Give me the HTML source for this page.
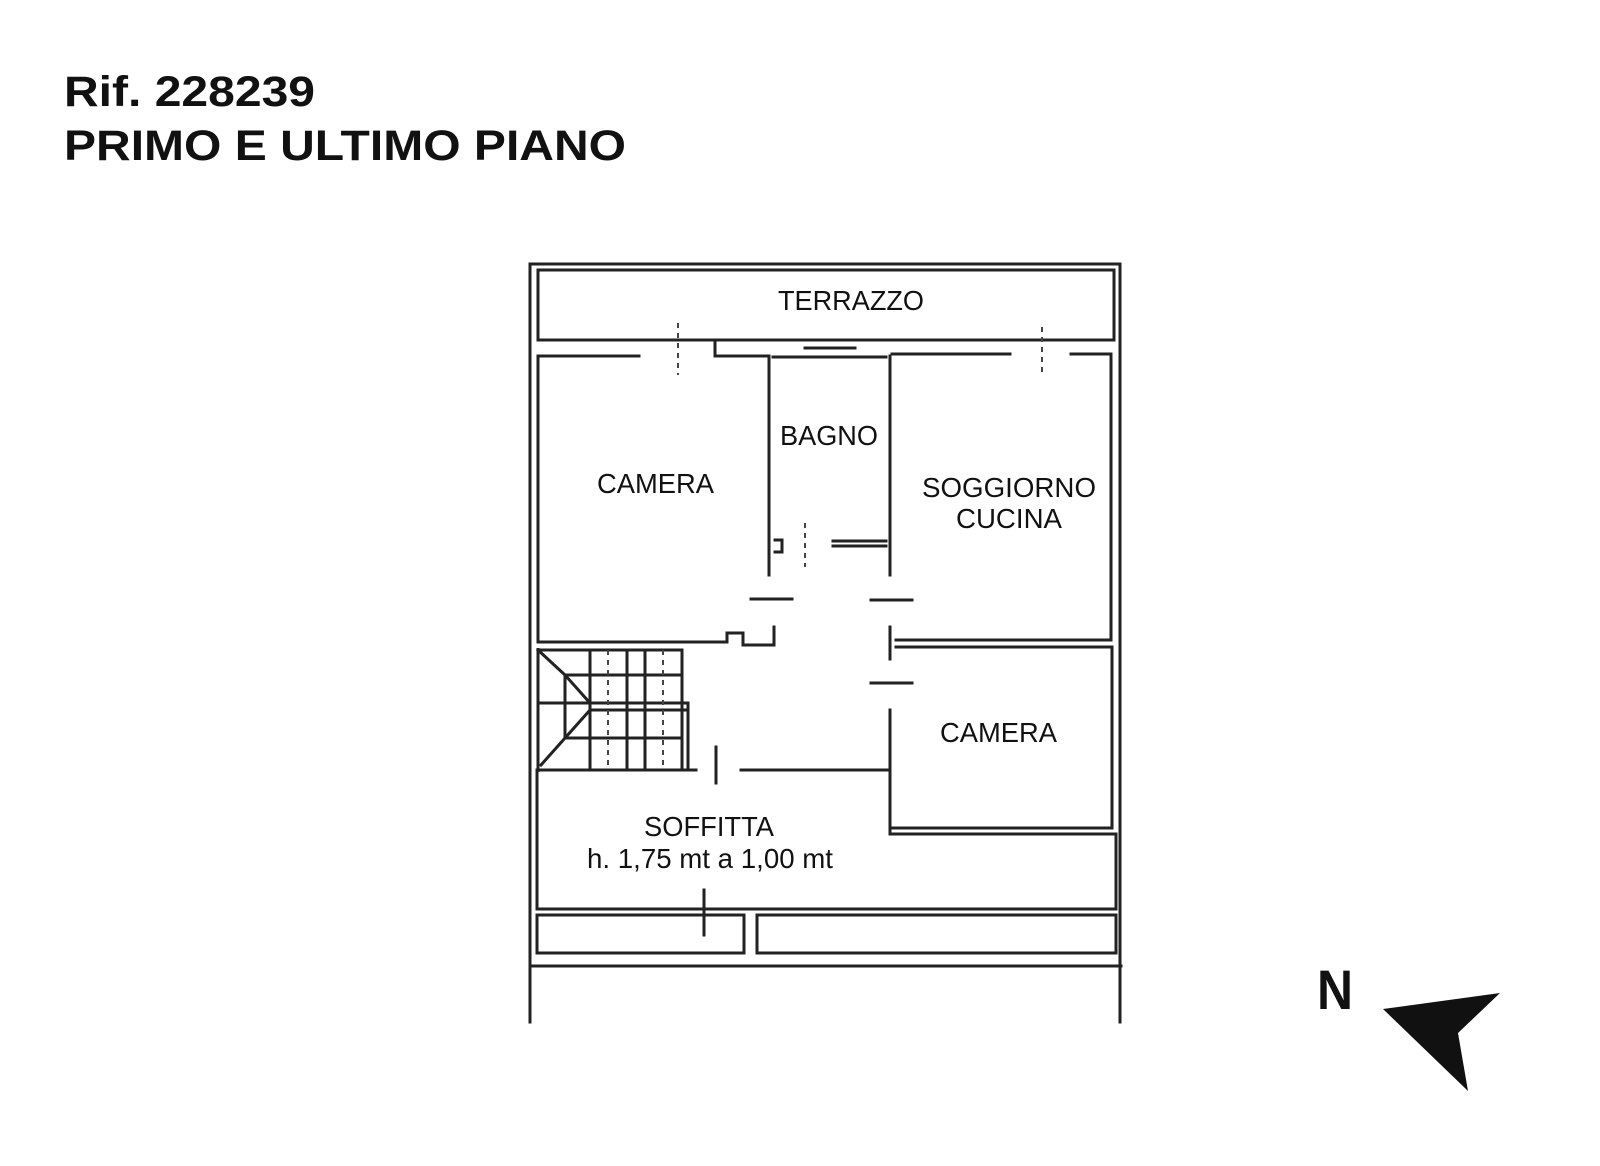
<!DOCTYPE html>
<html><head><meta charset="utf-8"><style>
html,body{margin:0;padding:0;background:#fff;}
svg{display:block;}
text{font-family:"Liberation Sans",Arial,sans-serif;fill:#111;}
</style></head><body>
<svg width="1600" height="1166" viewBox="0 0 1600 1166" xmlns="http://www.w3.org/2000/svg">
<text x="64" y="106" font-size="43" font-weight="bold" textLength="251" lengthAdjust="spacingAndGlyphs">Rif. 228239</text>
<text x="64" y="160" font-size="43" font-weight="bold" textLength="562" lengthAdjust="spacingAndGlyphs">PRIMO E ULTIMO PIANO</text>

<g fill="none" stroke="#222" stroke-width="3" stroke-linecap="square">
<!-- outer frame -->
<path d="M530 1022 V264 H1120 V1022"/>
<path d="M531 966 H1121"/>
<!-- terrazzo -->
<rect x="538" y="270" width="576" height="70"/>
<!-- top walls -->
<path d="M538 356 H639"/>
<path d="M715 342 V356 H769"/>
<path d="M805 348 H855"/>
<path d="M773 357 H886"/>
<path d="M892 354 H1010"/>
<path d="M1071 354 H1111 V640"/>
<!-- camera left -->
<path d="M538 356 V642 H727 V633 H743 V645 H774 V627"/>
<!-- bagno -->
<path d="M769 356 V575"/>
<path d="M775 540 H782 V552 H775"/>
<path d="M890 356 V575"/>
<path d="M833 541 H886 M833 546 H886"/>
<!-- door lines -->
<path d="M751 599 H792"/>
<path d="M871 600 H912"/>
<path d="M871 683 H912"/>
<!-- soggiorno stub -->
<path d="M890 627 V659"/>
<path d="M896 640 H1111"/>
<!-- camera right -->
<path d="M896 647 H1112 V828 H892"/>
<path d="M890 710 V834 H1116 V909"/>
<!-- stairs -->
<path d="M538 650 H682 V767"/>
<path d="M688 703 V770"/>
<path d="M590 650 V767 M627 650 V767 M645 650 V767"/>
<path d="M565 675 H682 M565 675 V738 H682"/>
<path d="M590 703 H688 M590 710 H688"/>
<path d="M538 703 H590"/>
<path d="M538 650 L565 675 M565 675 L590 703 M590 710 L541 765 M565 738 L590 710"/>
<!-- soffitta -->
<path d="M537 770 V909 H1116"/>
<path d="M537 770 H696"/>
<path d="M741 770 H888"/>
<path d="M716 747 V783"/>
<!-- bottom boxes -->
<rect x="537" y="915" width="207" height="38"/>
<rect x="757" y="915" width="359" height="38"/>
<path d="M704 890 V935"/>
</g>
<g fill="none" stroke="#444" stroke-width="2" stroke-dasharray="5,5">
<path d="M678 323 V375"/>
<path d="M1042 327 V373"/>
<path d="M805 523 V567"/>
<path d="M608 650 V767 M663 650 V767"/>
</g>
<path d="M538 648 V772" stroke="#222" stroke-width="3"/>

<g font-size="28">
<text x="778" y="310" textLength="146" lengthAdjust="spacingAndGlyphs">TERRAZZO</text>
<text x="597" y="493" textLength="117" lengthAdjust="spacingAndGlyphs">CAMERA</text>
<text x="780" y="445" textLength="98" lengthAdjust="spacingAndGlyphs">BAGNO</text>
<text x="922" y="497" textLength="174" lengthAdjust="spacingAndGlyphs">SOGGIORNO</text>
<text x="956" y="528" textLength="106" lengthAdjust="spacingAndGlyphs">CUCINA</text>
<text x="940" y="742" textLength="117" lengthAdjust="spacingAndGlyphs">CAMERA</text>
<text x="644" y="836" textLength="130" lengthAdjust="spacingAndGlyphs">SOFFITTA</text>
<text x="587" y="868" textLength="246" lengthAdjust="spacingAndGlyphs">h. 1,75 mt a 1,00 mt</text>
</g>

<text x="1317" y="1009" font-size="56" font-weight="bold" textLength="36" lengthAdjust="spacingAndGlyphs">N</text>
<polygon points="1383,1009 1500,993 1458,1033 1468,1091" fill="#111"/>
</svg>
</body></html>
